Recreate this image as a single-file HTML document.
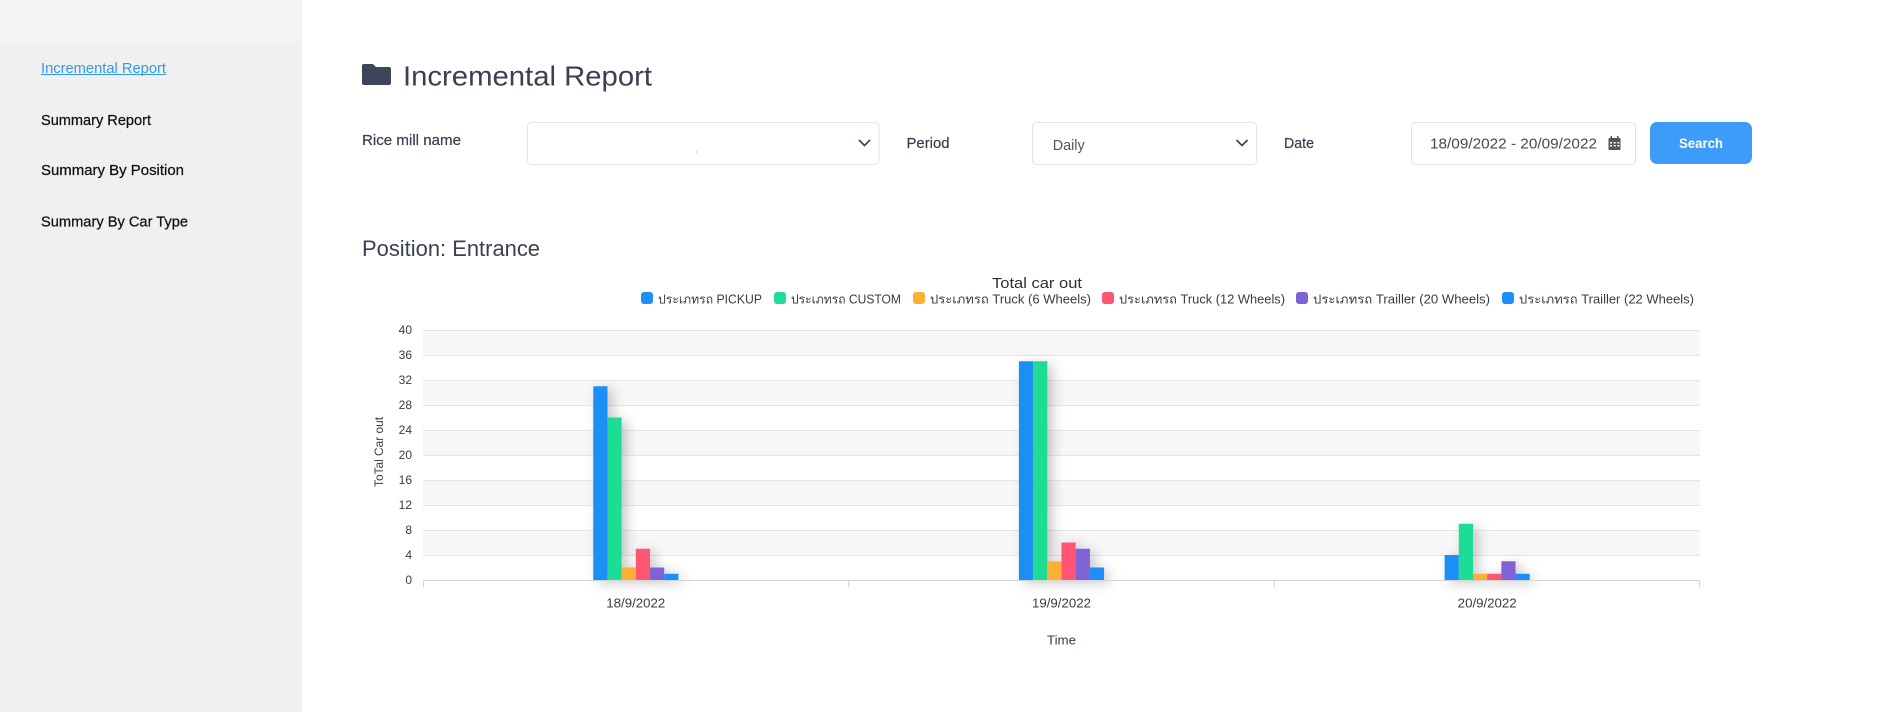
<!DOCTYPE html>
<html>
<head>
<meta charset="utf-8">
<style>
  html,body{margin:0;padding:0;background:#fff;}
  body{width:1880px;height:712px;overflow:hidden;position:relative;}
  svg{position:absolute;left:0;top:0;}
  text{font-family:"Liberation Sans","DejaVu Sans","Noto Sans CJK SC",sans-serif;}
</style>
</head>
<body>
<svg width="1880" height="712" viewBox="0 0 1880 712" xmlns="http://www.w3.org/2000/svg">
  <defs>
    <filter id="sh" x="-50%" y="-20%" width="250%" height="140%">
      <feDropShadow dx="5" dy="3" stdDeviation="6" flood-color="#000" flood-opacity="0.22"/>
    </filter>
  </defs>

  <!-- Sidebar -->
  <rect x="0" y="0" width="302" height="712" fill="#f0f0f0"/>
  <rect x="0" y="0" width="302" height="42" fill="#f3f3f3"/>

  <text x="41" y="73" font-size="14.5" fill="#2f9be8" textLength="125" lengthAdjust="spacingAndGlyphs">Incremental Report</text>
  <rect x="41" y="74" width="125" height="1" fill="#2f9be8"/>
  <text x="41" y="125" font-size="14.5" fill="#111" stroke="#111" stroke-width="0.25" textLength="110" lengthAdjust="spacingAndGlyphs">Summary Report</text>
  <text x="41" y="175" font-size="14.5" fill="#111" stroke="#111" stroke-width="0.25" textLength="143" lengthAdjust="spacingAndGlyphs">Summary By Position</text>
  <text x="41" y="226.5" font-size="14.5" fill="#111" stroke="#111" stroke-width="0.25" textLength="147" lengthAdjust="spacingAndGlyphs">Summary By Car Type</text>

  <!-- Header -->
  <path d="M364 64 h9 l3 3 h13 a2 2 0 0 1 2 2 v14 a2 2 0 0 1 -2 2 h-25 a2 2 0 0 1 -2 -2 v-17 a2 2 0 0 1 2 -2 z" fill="#3d4558"/>
  <text x="403" y="85.5" font-size="28" fill="#3a4050" textLength="249" lengthAdjust="spacingAndGlyphs">Incremental Report</text>

  <!-- Form row -->
  <text x="362" y="145" font-size="15" fill="#3a3f4e" stroke="#3a3f4e" stroke-width="0.2" textLength="99" lengthAdjust="spacingAndGlyphs">Rice mill name</text>
  <rect x="527.5" y="122.5" width="351.5" height="42" rx="4" fill="#fff" stroke="#e4e4e4"/>
  <rect x="696" y="151.5" width="1" height="1" fill="#999"/>
  <polyline points="859,140 864.5,145.5 870,140" fill="none" stroke="#3a3f4e" stroke-width="1.6"/>

  <text x="906.5" y="148" font-size="15" fill="#3a3f4e" stroke="#3a3f4e" stroke-width="0.2" textLength="43" lengthAdjust="spacingAndGlyphs">Period</text>
  <rect x="1032.5" y="122.5" width="224" height="42" rx="4" fill="#fff" stroke="#e4e4e4"/>
  <text x="1052.7" y="150" font-size="15" fill="#555" textLength="32" lengthAdjust="spacingAndGlyphs">Daily</text>
  <polyline points="1236.5,140 1242,145.5 1247.5,140" fill="none" stroke="#3a3f4e" stroke-width="1.6"/>

  <text x="1284" y="148" font-size="15" fill="#3a3f4e" stroke="#3a3f4e" stroke-width="0.2" textLength="30" lengthAdjust="spacingAndGlyphs">Date</text>
  <rect x="1411.5" y="122.5" width="224" height="42" rx="4" fill="#fff" stroke="#e4e4e4"/>
  <text x="1430" y="148.5" font-size="15" fill="#4a4a4a" textLength="167" lengthAdjust="spacingAndGlyphs">18/09/2022 - 20/09/2022</text>
  <!-- calendar icon -->
  <rect x="1608.5" y="138" width="12" height="12" rx="1" fill="#555"/>
  <rect x="1610.5" y="136" width="1.5" height="3" fill="#555"/>
  <rect x="1617" y="136" width="1.5" height="3" fill="#555"/>
  <g fill="#fff">
    <rect x="1610" y="142" width="2" height="1.5"/><rect x="1613.7" y="142" width="2" height="1.5"/><rect x="1617.3" y="142" width="2" height="1.5"/>
    <rect x="1610" y="145" width="2" height="1.5"/><rect x="1613.7" y="145" width="2" height="1.5"/><rect x="1617.3" y="145" width="2" height="1.5"/>
  </g>

  <rect x="1650" y="122" width="102" height="42" rx="7" fill="#3d9cf8"/>
  <text x="1701" y="148" font-size="14" font-weight="bold" fill="#fff" text-anchor="middle" textLength="44" lengthAdjust="spacingAndGlyphs">Search</text>

  <!-- Position -->
  <text x="362" y="256" font-size="22" fill="#3a4050" textLength="178" lengthAdjust="spacingAndGlyphs">Position: Entrance</text>

  <!-- Chart title -->
  <text x="1037" y="288" font-size="15" fill="#263238" text-anchor="middle" textLength="90" lengthAdjust="spacingAndGlyphs">Total car out</text>

  <!-- Legend -->
  <g font-size="12.5" fill="#373d3f">
    <rect x="641" y="292" width="12" height="12" rx="3" fill="#1e8ff6"/>
    <text x="658" y="303.5" textLength="104" lengthAdjust="spacingAndGlyphs">ประเภทรถ PICKUP</text>
    <rect x="774" y="292" width="12" height="12" rx="3" fill="#1fdc96"/>
    <text x="791" y="303.5" textLength="110" lengthAdjust="spacingAndGlyphs">ประเภทรถ CUSTOM</text>
    <rect x="913" y="292" width="12" height="12" rx="3" fill="#fbb034"/>
    <text x="930" y="303.5" textLength="161" lengthAdjust="spacingAndGlyphs">ประเภทรถ Truck (6 Wheels)</text>
    <rect x="1102" y="292" width="12" height="12" rx="3" fill="#fd5572"/>
    <text x="1119" y="303.5" textLength="166" lengthAdjust="spacingAndGlyphs">ประเภทรถ Truck (12 Wheels)</text>
    <rect x="1296" y="292" width="12" height="12" rx="3" fill="#7f63d4"/>
    <text x="1313" y="303.5" textLength="177" lengthAdjust="spacingAndGlyphs">ประเภทรถ Trailler (20 Wheels)</text>
    <rect x="1502" y="292" width="12" height="12" rx="3" fill="#1e8ff6"/>
    <text x="1519" y="303.5" textLength="175" lengthAdjust="spacingAndGlyphs">ประเภทรถ Trailler (22 Wheels)</text>
  </g>

  <!-- Grid bands -->
  <g fill="#f7f7f7">
    <rect x="423" y="330" width="1277" height="25"/>
    <rect x="423" y="380" width="1277" height="25"/>
    <rect x="423" y="430" width="1277" height="25"/>
    <rect x="423" y="480" width="1277" height="25"/>
    <rect x="423" y="530" width="1277" height="25"/>
  </g>
  <g stroke="#e6e6e6" stroke-width="1">
    <line x1="423" x2="1700" y1="330.5" y2="330.5"/>
    <line x1="423" x2="1700" y1="355.5" y2="355.5"/>
    <line x1="423" x2="1700" y1="380.5" y2="380.5"/>
    <line x1="423" x2="1700" y1="405.5" y2="405.5"/>
    <line x1="423" x2="1700" y1="430.5" y2="430.5"/>
    <line x1="423" x2="1700" y1="455.5" y2="455.5"/>
    <line x1="423" x2="1700" y1="480.5" y2="480.5"/>
    <line x1="423" x2="1700" y1="505.5" y2="505.5"/>
    <line x1="423" x2="1700" y1="530.5" y2="530.5"/>
    <line x1="423" x2="1700" y1="555.5" y2="555.5"/>
  </g>

  <!-- Y tick labels -->
  <g font-size="12" fill="#373d3f" text-anchor="end">
    <text x="412" y="334">40</text>
    <text x="412" y="359">36</text>
    <text x="412" y="384">32</text>
    <text x="412" y="409">28</text>
    <text x="412" y="434">24</text>
    <text x="412" y="459">20</text>
    <text x="412" y="484">16</text>
    <text x="412" y="509">12</text>
    <text x="412" y="534">8</text>
    <text x="412" y="559">4</text>
    <text x="412" y="584">0</text>
  </g>
  <text transform="translate(383,452) rotate(-90)" font-size="12" fill="#373d3f" text-anchor="middle" textLength="70" lengthAdjust="spacingAndGlyphs">ToTal Car out</text>

  <!-- Bars -->
  <g filter="url(#sh)">
    <rect x="593.27" y="386.25" width="14.19" height="193.75" fill="#1e8ff6"/>
    <rect x="607.46" y="417.5" width="14.19" height="162.5" fill="#1fdc96"/>
    <rect x="621.65" y="567.5" width="14.19" height="12.5" fill="#fbb034"/>
    <rect x="635.84" y="548.75" width="14.19" height="31.25" fill="#fd5572"/>
    <rect x="650.03" y="567.5" width="14.19" height="12.5" fill="#7f63d4"/>
    <rect x="664.22" y="573.75" width="14.19" height="6.25" fill="#1e8ff6"/>
    <rect x="1018.93" y="361.25" width="14.19" height="218.75" fill="#1e8ff6"/>
    <rect x="1033.12" y="361.25" width="14.19" height="218.75" fill="#1fdc96"/>
    <rect x="1047.31" y="561.25" width="14.19" height="18.75" fill="#fbb034"/>
    <rect x="1061.5" y="542.5" width="14.19" height="37.5" fill="#fd5572"/>
    <rect x="1075.69" y="548.75" width="14.19" height="31.25" fill="#7f63d4"/>
    <rect x="1089.88" y="567.5" width="14.19" height="12.5" fill="#1e8ff6"/>
    <rect x="1444.6" y="555" width="14.19" height="25" fill="#1e8ff6"/>
    <rect x="1458.79" y="523.75" width="14.19" height="56.25" fill="#1fdc96"/>
    <rect x="1472.98" y="573.75" width="14.19" height="6.25" fill="#fbb034"/>
    <rect x="1487.17" y="573.75" width="14.19" height="6.25" fill="#fd5572"/>
    <rect x="1501.36" y="561.25" width="14.19" height="18.75" fill="#7f63d4"/>
    <rect x="1515.55" y="573.75" width="14.19" height="6.25" fill="#1e8ff6"/>
  </g>

  <!-- X axis -->
  <line x1="423" x2="1700" y1="580.5" y2="580.5" stroke="#d4d4d4" stroke-width="1"/>
  <g stroke="#d4d4d4" stroke-width="1">
    <line x1="423.5" x2="423.5" y1="580" y2="587"/>
    <line x1="848.7" x2="848.7" y1="580" y2="587"/>
    <line x1="1274.3" x2="1274.3" y1="580" y2="587"/>
    <line x1="1699.5" x2="1699.5" y1="580" y2="587"/>
  </g>
  <g font-size="12.5" fill="#373d3f" text-anchor="middle">
    <text x="635.8" y="607.5" textLength="59" lengthAdjust="spacingAndGlyphs">18/9/2022</text>
    <text x="1061.5" y="607.5" textLength="59" lengthAdjust="spacingAndGlyphs">19/9/2022</text>
    <text x="1487.2" y="607.5" textLength="59" lengthAdjust="spacingAndGlyphs">20/9/2022</text>
  </g>
  <text x="1061.5" y="644.5" font-size="12.5" fill="#373d3f" text-anchor="middle" textLength="29" lengthAdjust="spacingAndGlyphs">Time</text>
</svg>
</body>
</html>
